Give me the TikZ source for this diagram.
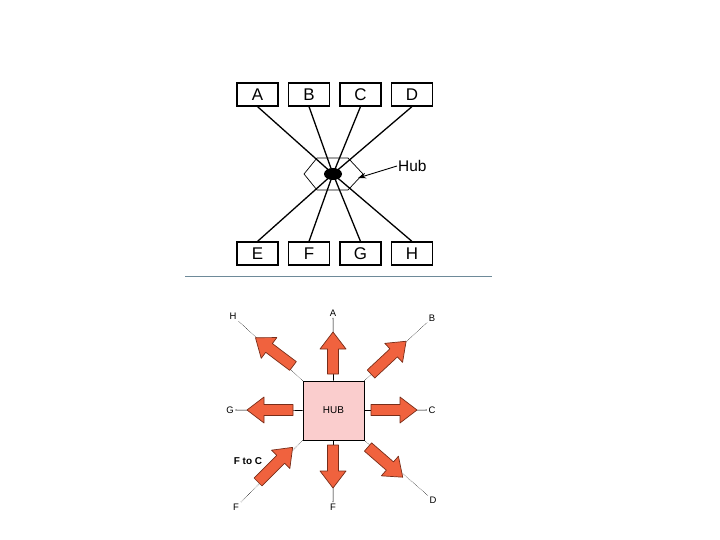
\documentclass[tikz,border=0pt]{standalone}
\usepackage{fontspec}
\setmainfont{Liberation Sans}
\usetikzlibrary{shapes.geometric,arrows.meta}
\definecolor{hubpink}{RGB}{250,205,205}
\definecolor{arroworange}{RGB}{240,98,62}
\definecolor{arrowedge}{RGB}{120,45,25}
\definecolor{rulegray}{RGB}{110,138,153}

\begin{document}
\begin{tikzpicture}[x=1bp,y=-1bp,
    station/.style={draw, line width=1.2bp, minimum width=41bp, minimum height=23bp, inner sep=0pt, font=\fontsize{17}{18}\selectfont},
    spoke/.style={line width=1.3bp},
    lbl/.style={inner sep=1.5bp, font=\fontsize{9.5}{10}\selectfont},
    fatarrow/.style={fill=arroworange, draw=arrowedge, line width=0.7bp, line join=round}]
  \useasboundingbox (0,0) rectangle (720,540);

  % star wiring
  \foreach \n/\x in {A/257.5,B/309,C/360.5,D/412}
    \node[station] (\n) at (\x,94.5) {\n};
  \foreach \n/\x in {E/257.5,F/309,G/360.5,H/412}
    \node[station] (\n) at (\x,253.5) {\n};
  \coordinate (hubc) at (333,174);
  \coordinate (hubedge) at (358,178);
  \foreach \n in {A,B,C,D}
    \draw[spoke] (\n.south) -- (hubc);
  \foreach \n in {E,F,G,H}
    \draw[spoke] (\n.north) -- (hubc);
  \draw[line width=0.7bp] (304,174) -- (317,158) -- (348,158) -- (363,174) -- (348,190) -- (317,190) -- cycle;
  \node[ellipse, fill=black, minimum width=18bp, minimum height=12bp, inner sep=0pt] (hubdot) at (hubc) {};
  \node[anchor=west, inner sep=1bp, font=\fontsize{15.5}{16}\selectfont] (hubtxt) at (397,166) {Hub};
  \draw[line width=0.9bp, -{Stealth[length=8bp,width=5.5bp]}] (hubtxt.west) -- (hubedge);

  \coordinate (ruleL) at (185,276);
  \coordinate (ruleR) at (492,276);
  \draw[rulegray, line width=0.8bp] (ruleL) -- (ruleR);

  % hub with arrows
  \node[draw, fill=hubpink, line width=0.8bp, minimum width=61bp, minimum height=59bp, font=\fontsize{10}{11}\selectfont] (hub) at (333.5,410.5) {HUB};
  \node[lbl] (lA) at (333,313) {A};
  \node[lbl] (lB) at (432,318) {B};
  \node[lbl] (lC) at (432,410) {C};
  \node[lbl] (lD) at (433,500) {D};
  \node[lbl] (lE) at (236,507) {F};
  \node[lbl] (lF) at (333,507) {F};
  \node[lbl] (lG) at (230,410) {G};
  \node[lbl] (lH) at (233,316) {H};
  \node[inner sep=0pt, font=\bfseries\fontsize{10}{11}\selectfont] (ftoc) at (248,461) {F to C};

  \draw[line width=0.6bp] (hub.north) -- (lA);
  \draw[line width=0.6bp] (hub.east) -- (lC);
  \draw[line width=0.6bp] (hub.south) -- (lF);
  \draw[line width=0.6bp] (hub.west) -- (lG);
  \draw[densely dotted, line width=0.5bp] (hub.north east) -- (lB);
  \draw[densely dotted, line width=0.5bp] (hub.south east) -- (lD);
  \draw[densely dotted, line width=0.5bp] (hub.south west) -- (lE);
  \draw[densely dotted, line width=0.5bp] (hub.north west) -- (lH);

  \foreach \x/\y/\a/\l in {333/374/90/42, 371/410/0/46, 333/445/-90/43, 293/410/180/46,
                            371/374/43/48, 293/366/143/47, 368/447/-41/46, 258/482/45/49}
    \draw[fatarrow, shift={(\x,\y)}, rotate=\a]
      (0,5.5) -- (\l-17,5.5) -- (\l-17,13) -- (\l,0) -- (\l-17,-13) -- (\l-17,-5.5) -- (0,-5.5) -- cycle;
\end{tikzpicture}
\end{document}
